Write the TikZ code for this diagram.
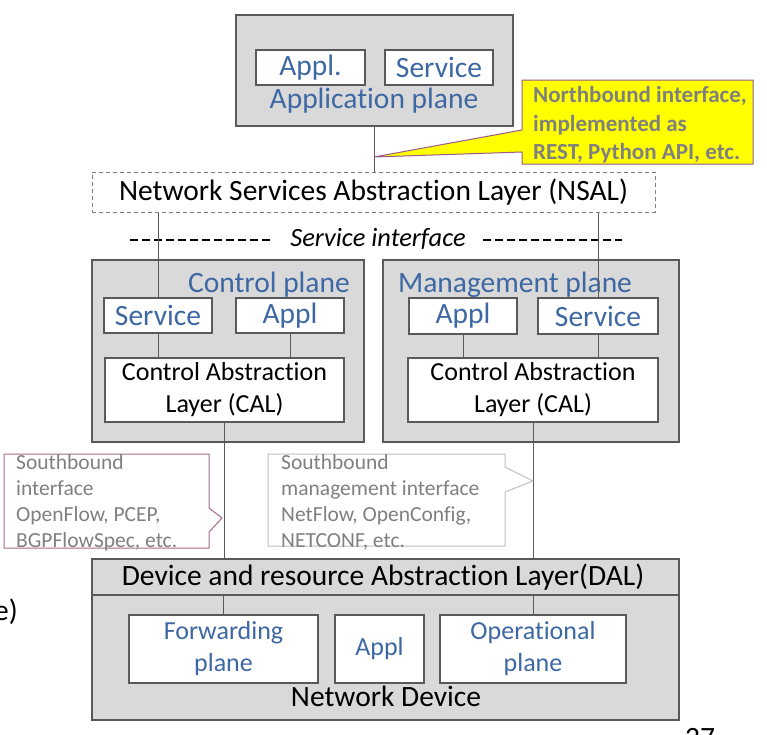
\documentclass[tikz,border=0pt]{standalone}
\usepackage{fontspec}
\setmainfont{Carlito}[Ligatures=NoCommon]
\definecolor{planegray}{HTML}{D9D9D9}
\definecolor{bordergray}{HTML}{595959}
\definecolor{linegray}{HTML}{5A5A5A}
\definecolor{bluetext}{HTML}{3D68A3}
\definecolor{calloutgray}{HTML}{808080}
\definecolor{yellowfill}{HTML}{FFFF00}
\definecolor{purpleedge}{HTML}{9B5A8A}
\definecolor{sbedge}{HTML}{A86B8E}
\definecolor{lightedge}{HTML}{BFBFBF}
\begin{document}
\begin{tikzpicture}[x=1pt,y=-1pt,
  plane/.style={draw=bordergray, fill=planegray, line width=1.3pt, inner sep=0pt},
  wbox/.style={draw=bordergray, fill=white, line width=1.2pt, inner sep=0pt, align=center},
  conn/.style={draw=linegray, line width=1pt},
  big/.style={font=\fontsize{29.5}{35}\selectfont},
  mid/.style={font=\fontsize{26}{32}\selectfont},
  blue/.style={text=bluetext},
  sbtext/.style={font=\fontsize{21.5}{26}\selectfont, text=calloutgray, align=left, inner sep=0pt, anchor=west},
  every node/.style={inner sep=0pt}]
\useasboundingbox (0,0) rectangle (767,734);

% plane boxes
\node[plane, minimum width=277pt, minimum height=111pt] (app) at (374.5,70.5) {};
\node[plane, minimum width=272pt, minimum height=182pt] (ctrl) at (228,351) {};
\node[plane, minimum width=296pt, minimum height=182pt] (mgmt) at (531,351) {};
\node[plane, minimum width=587pt, minimum height=161pt] (dev) at (385.5,639.5) {};
\node[plane, minimum width=587pt, minimum height=36pt] (dal) at (385.5,577) {};

% plane titles
\node[big, blue] (apptitle) at (374,101) {Application plane};
\node[big, blue] (ctrltitle) at (269,285) {Control plane};
\node[big, blue] (mgmttitle) at (515,285) {Management plane};
\node[big] (daltitle) at (383,577) {Device and resource Abstraction Layer(DAL)};
\node[big] (devtitle) at (386,696) {Network Device};

% NSAL
\node[draw=calloutgray, dash pattern=on 4pt off 3pt, line width=1pt, minimum width=563pt, minimum height=40pt, big] (nsal) at (373.5,192) {Network Services Abstraction Layer (NSAL)};

% Service interface
\node[font=\fontsize{26.4}{31}\selectfont\itshape, inner xsep=17pt] (si) at (378,239) {Service interface};
\coordinate (sil) at (130,240);
\coordinate (sir) at (622,240);
\draw[line width=1.5pt, dash pattern=on 8pt off 4pt] (sil) -- (si.west |- sil);
\draw[line width=1.5pt, dash pattern=on 8pt off 4pt] (si.east |- sir) -- (sir);

% white boxes
\node[wbox, big, blue, minimum width=109pt, minimum height=35pt] (appA) at (310.5,67.5) {Appl.};
\node[wbox, big, blue, minimum width=108pt, minimum height=35pt] (appS) at (439,67.5) {Service};

\node[wbox, big, blue, minimum width=108pt, minimum height=35pt] (csvc) at (158,315.5) {Service};
\node[wbox, big, blue, minimum width=108pt, minimum height=35pt] (cappl) at (290,315.5) {Appl};
\node[wbox, mid, minimum width=239pt, minimum height=64pt] (ccal) at (224.5,390) {Control Abstraction\\Layer (CAL)};

\node[wbox, big, blue, minimum width=108pt, minimum height=36pt] (mappl) at (463,316) {Appl};
\node[wbox, big, blue, minimum width=120pt, minimum height=36pt] (msvc) at (598,316) {Service};
\node[wbox, mid, minimum width=250pt, minimum height=64pt] (mcal) at (533,390) {Control Abstraction\\Layer (CAL)};

\node[wbox, mid, blue, minimum width=189pt, minimum height=68pt] (fwd) at (223.5,649) {Forwarding\\plane};
\node[wbox, mid, blue, minimum width=89pt, minimum height=68pt] (dappl) at (379.5,649) {Appl};
\node[wbox, mid, blue, minimum width=186pt, minimum height=68pt] (oper) at (533,649) {Operational\\plane};

% connectors
\draw[conn] (app.south) -- (app.south |- nsal.north);
\draw[conn] (csvc.north) -- (csvc.north |- nsal.south);
\draw[conn] (msvc.north) -- (msvc.north |- nsal.south);
\draw[conn] (csvc.south) -- (csvc.south |- ccal.north);
\draw[conn] (cappl.south) -- (cappl.south |- ccal.north);
\draw[conn] (mappl.south) -- (mappl.south |- mcal.north);
\draw[conn] (msvc.south) -- (msvc.south |- mcal.north);
\draw[conn] (ccal.south) -- (ccal.south |- dal.north);
\draw[conn] (mcal.south) -- (mcal.south |- dal.north);
\draw[conn] (fwd.north) -- (fwd.north |- dal.south);
\draw[conn] (oper.north) -- (oper.north |- dal.south);

% Northbound callout
\coordinate (nbtip) at (374,157);
\draw[fill=yellowfill, draw=purpleedge, line width=1pt]
  (522,80) -- (753,80) -- (753,164) -- (522,164) -- (522,152) -- (nbtip) -- (522,130) -- cycle;
\node[font=\fontsize{23}{28.5}\selectfont\bfseries, text=calloutgray, align=left, anchor=west] (nbtext) at (533,125)
  {Northbound interface,\\implemented as\\REST, Python API, etc.};

% Southbound callouts
\coordinate (sbtip) at (222,518);
\draw[fill=white, draw=sbedge, line width=1pt]
  (4,454) -- (209,454) -- (209,508) -- (sbtip) -- (209,532) -- (209,548) -- (4,548) -- cycle;
\node[sbtext] (sbtext) at (16,503) {Southbound\\interface\\OpenFlow, PCEP,\\BGPFlowSpec, etc.};

\coordinate (smtip) at (533,481);
\draw[fill=white, draw=lightedge, line width=1pt]
  (268,454) -- (505,454) -- (505,467) -- (smtip) -- (505,492) -- (505,546) -- (268,546) -- cycle;
\node[sbtext] (smtext) at (281,502) {Southbound\\management interface\\NetFlow, OpenConfig,\\NETCONF, etc.};

% slide fragments at the edges
\node[big, anchor=east] (frag1) at (18,612) {e)};
\node[big] (pagenum) at (700,738) {27};
\end{tikzpicture}
\end{document}
